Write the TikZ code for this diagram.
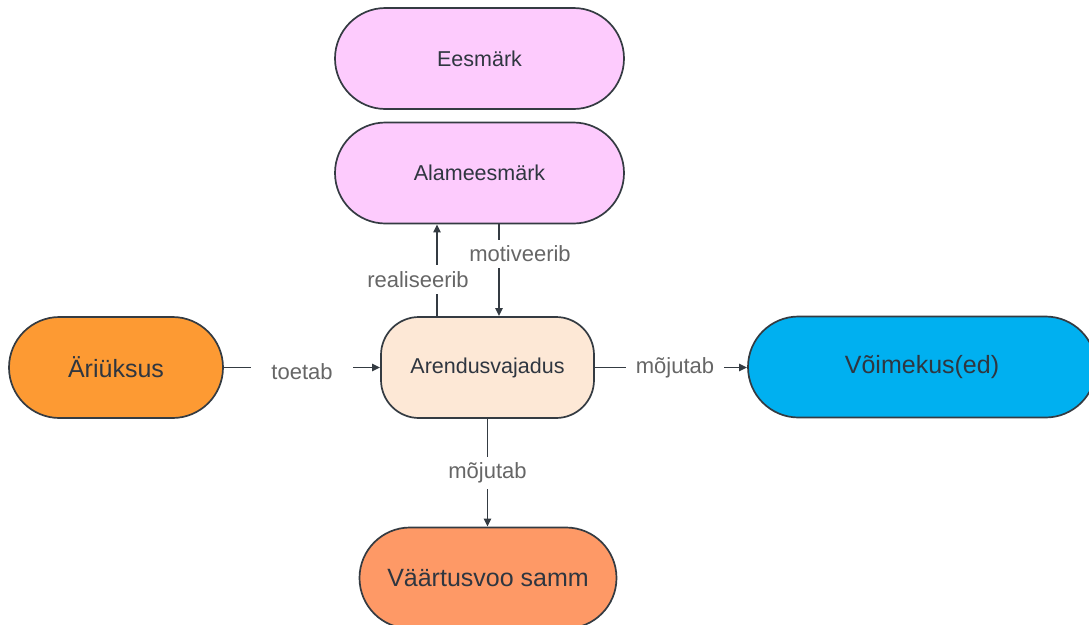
\documentclass[tikz,border=0pt]{standalone}
\usepackage{fontspec}
\setmainfont{Liberation Sans}
\usetikzlibrary{shapes.misc,arrows.meta}
\definecolor{edge}{HTML}{343B42}
\definecolor{ink}{HTML}{2F3640}
\definecolor{lblgray}{HTML}{666666}
\definecolor{pinkfill}{HTML}{FDCBFD}
\definecolor{peachfill}{HTML}{FDE8D6}
\definecolor{orangefill}{HTML}{FD9A33}
\definecolor{bluefill}{HTML}{00B0F0}
\definecolor{salmonfill}{HTML}{FE9966}
\begin{document}
\begin{tikzpicture}[x=1pt,y=-1pt,
  box/.style={draw=edge, line width=1.7pt, text=ink, align=center, inner sep=0pt, minimum height=101pt},
  pill/.style={box, rounded rectangle, minimum width=#1},
  smalltxt/.style={font=\fontsize{21.5}{26}\selectfont},
  bigtxt/.style={font=\fontsize{25}{30}\selectfont},
  arr/.style={draw=edge, line width=1.9pt, -{Triangle[length=8pt,width=7pt]}},
  lbl/.style={fill=white, text=lblgray, font=\fontsize{22}{26}\selectfont, inner xsep=10pt, inner ysep=6pt}
]
\useasboundingbox (0,0) rectangle (1089,624);
\clip (0,0) rectangle (1089,624);

% goals
\node[pill=289pt, smalltxt, fill=pinkfill] (goal) at (479.5,58.5) {Eesmärk};
\node[pill=289pt, smalltxt, fill=pinkfill] (subgoal) at (479.5,173) {Alameesmärk};

% central need
\node[box, smalltxt, fill=peachfill, rounded corners=38pt, minimum width=213pt] (need) at (487.5,367.5) {Arendusvajadus};

% side and bottom nodes
\node[pill=214pt, bigtxt, fill=orangefill] (unit) at (116,367.5) {Äriüksus};
\node[pill=348pt, bigtxt, fill=bluefill] (cap) at (922,367) {Võimekus(ed)};
\node[pill=257pt, bigtxt, fill=salmonfill] (step) at (488,578) {Väärtusvoo samm};

% connectors
\draw[arr] ([xshift=-50.5pt]need.north) -- node[lbl, pos=0.4, xshift=-19pt] {realiseerib} ([xshift=-50.5pt]need.north |- subgoal.south);
\draw[arr] ([xshift=11.5pt]need.north |- subgoal.south) -- node[lbl, pos=0.32, xshift=21pt] {motiveerib} ([xshift=11.5pt]need.north);
\draw[arr] (unit.east) -- node[lbl, inner xsep=20pt, yshift=-4pt] {toetab} (need.west);
\draw[arr] (need.east) -- node[lbl, xshift=4pt] {mõjutab} (need.east -| cap.west);
\draw[arr] (need.south) -- node[lbl] {mõjutab} (need.south |- step.north);
\end{tikzpicture}
\end{document}
